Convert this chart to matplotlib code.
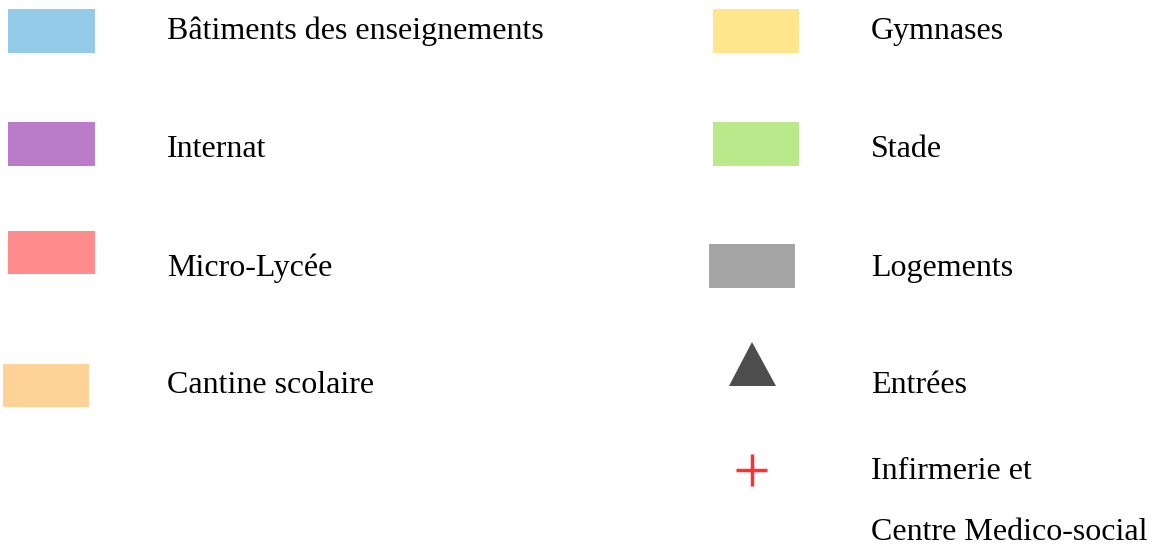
import matplotlib.pyplot as plt
from matplotlib.patches import Rectangle, Polygon

# legend entries
swatch_labels = ['Bâtiments des enseignements', 'Internat', 'Micro-Lycée', 'Cantine scolaire',
                 'Gymnases', 'Stade', 'Logements']
swatch_colors = ['#92cae8', '#ba7cc9', '#ff8c8c', '#ffd298',
                 '#ffe68c', '#b9e98a', '#a5a5a5']
marker_labels = ['Entrées', 'Infirmerie et', 'Centre Medico-social']
marker_colors = ['#4d4d4d', '#ff3030']

# layout in pixels (x left, y top, w, h) and text baselines
swatch_boxes = [(8, 9, 87, 44), (8, 122, 87, 44), (8, 231, 87, 43), (3, 364, 86, 43),
                (713, 9, 86, 44), (713, 122, 86, 44), (709, 244, 86, 44)]
swatch_text = [(167, 39), (167, 157), (167, 276), (167, 393),
               (871, 39), (871, 157), (871, 276)]

fig = plt.figure(figsize=(11.57, 5.45), dpi=100)
ax = fig.add_axes([0, 0, 1, 1])
ax.set_xlim(0, 1157)
ax.set_ylim(545, 0)
ax.axis('off')

font = dict(family='Liberation Serif', fontsize=23, color='black', va='baseline', ha='left')

for (x, y, w, h), c, lab, (tx, ty) in zip(swatch_boxes, swatch_colors, swatch_labels, swatch_text):
    ax.add_patch(Rectangle((x, y), w, h, facecolor=c, edgecolor='none'))
    ax.text(tx, ty, lab, **font)

# triangle (entrées)
ax.add_patch(Polygon([(729, 386), (776, 386), (752, 342)], closed=True,
                     facecolor=marker_colors[0], edgecolor='none'))
ax.text(871, 393, marker_labels[0], **font)

# red cross (infirmerie)
ax.plot([736, 767], [470, 470], color=marker_colors[1], lw=2.5, solid_capstyle='butt')
ax.plot([751.5, 751.5], [454, 486], color=marker_colors[1], lw=2.5, solid_capstyle='butt')
ax.text(871, 479, marker_labels[1], **font)
ax.text(871, 540, marker_labels[2], **font)

fig.savefig('out.png', dpi=100)
